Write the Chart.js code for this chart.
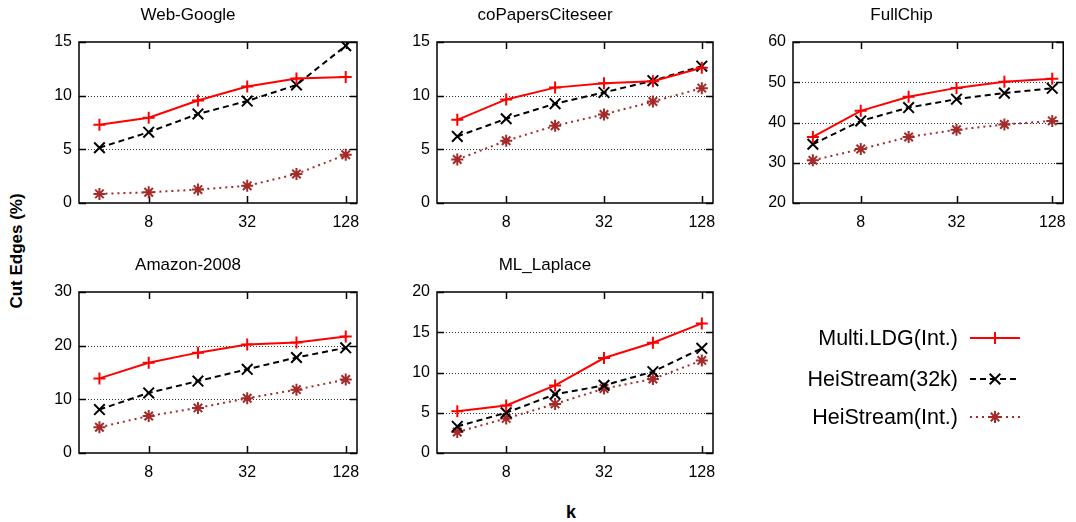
<!DOCTYPE html>
<html>
<head>
<meta charset="utf-8">
<script src="https://cdn.jsdelivr.net/npm/chart.js@4/dist/chart.umd.min.js"></script>
<style>
    html, body { margin: 0; padding: 0; background: #fff; }
    body { width: 1076px; height: 522px; position: relative; overflow: hidden;
           font-family: "Liberation Sans", Arial, sans-serif; color: #000; }
    canvas { position: absolute; }
    .axis-title { position: absolute; font-weight: bold; white-space: nowrap; }
    #ylabel { left: 17px; top: 251px; font-size: 17px; transform: translate(-50%, -50%) rotate(-90deg); }
    #xlabel { left: 571px; top: 512px; font-size: 18px; transform: translate(-50%, -50%); }
    .legend-row { position: absolute; left: 700px; width: 258px; text-align: right; font-size: 21.5px;
                  line-height: 24px; white-space: nowrap; }
</style>
</head>
<body>
<div id="ylabel" class="axis-title">Cut Edges (%)</div>
<div id="xlabel" class="axis-title">k</div>

<script>
// Data
const kValues = [4, 8, 16, 32, 64, 128];
const kTickValues = [8, 32, 128];
const seriesNames = ['Multi.LDG(Int.)', 'HeiStream(32k)', 'HeiStream(Int.)'];

const webGoogleMultiLdg = [7.3, 7.95, 9.55, 10.85, 11.6, 11.75];
const webGoogleHei32k   = [5.15, 6.6, 8.3, 9.5, 11.0, 14.65];
const webGoogleHeiInt   = [0.85, 1.0, 1.25, 1.6, 2.7, 4.5];

const coPapersMultiLdg = [7.75, 9.65, 10.75, 11.15, 11.35, 12.6];
const coPapersHei32k   = [6.2, 7.85, 9.25, 10.3, 11.4, 12.75];
const coPapersHeiInt   = [4.05, 5.8, 7.2, 8.25, 9.45, 10.7];

const fullChipMultiLdg = [36.4, 42.9, 46.4, 48.6, 50.1, 50.9];
const fullChipHei32k   = [34.6, 40.4, 43.7, 45.8, 47.3, 48.5];
const fullChipHeiInt   = [30.6, 33.4, 36.4, 38.2, 39.5, 40.4];

const amazonMultiLdg = [13.9, 16.8, 18.7, 20.2, 20.6, 21.7];
const amazonHei32k   = [8.1, 11.2, 13.4, 15.6, 17.8, 19.6];
const amazonHeiInt   = [4.8, 6.9, 8.4, 10.2, 11.8, 13.7];

const laplaceMultiLdg = [5.2, 5.9, 8.4, 11.8, 13.7, 16.1];
const laplaceHei32k   = [3.3, 5.0, 7.3, 8.4, 10.1, 13.0];
const laplaceHeiInt   = [2.6, 4.3, 6.1, 8.0, 9.2, 11.5];

// y axis ranges (min, max, step) per panel
const webGoogleYRange = [0, 15, 5];
const coPapersYRange  = [0, 15, 5];
const fullChipYRange  = [20, 60, 10];
const amazonYRange    = [0, 30, 10];
const laplaceYRange   = [0, 20, 5];

// Series styles
const seriesStyles = [
    { color: '#ff0000', dash: [], point: 'cross', radius: 6 },
    { color: '#000000', dash: [6, 4], point: 'crossRot', radius: 7.5 },
    { color: '#a52a2a', dash: [2, 4], point: 'star', radius: 6 }
];

const FONT = '"Liberation Sans", Arial, sans-serif';
const Y_AXIS_W = 60, TITLE_H = 42, X_AXIS_H = 30;

// Panel layout: plot area box in page pixels
const panels = [
    { title: 'Web-Google', series: [webGoogleMultiLdg, webGoogleHei32k, webGoogleHeiInt], yRange: webGoogleYRange,
      left: 79, right: 357, top: 42, bottom: 203 },
    { title: 'coPapersCiteseer', series: [coPapersMultiLdg, coPapersHei32k, coPapersHeiInt], yRange: coPapersYRange,
      left: 437, right: 713, top: 42, bottom: 203 },
    { title: 'FullChip', series: [fullChipMultiLdg, fullChipHei32k, fullChipHeiInt], yRange: fullChipYRange,
      left: 793, right: 1070, top: 42, bottom: 203 },
    { title: 'Amazon-2008', series: [amazonMultiLdg, amazonHei32k, amazonHeiInt], yRange: amazonYRange,
      left: 79, right: 357, top: 292, bottom: 453 },
    { title: 'ML_Laplace', series: [laplaceMultiLdg, laplaceHei32k, laplaceHeiInt], yRange: laplaceYRange,
      left: 437, right: 713, top: 292, bottom: 453 }
];

// gnuplot-like frame: box, inward ticks and dotted grid
const framePlugin = {
    id: 'frame',
    beforeDatasetsDraw(chart) {
        const { ctx, chartArea: a, scales: { x, y } } = chart;
        ctx.save();
        // dotted grid at interior y ticks
        ctx.strokeStyle = '#333';
        ctx.lineWidth = 1;
        ctx.setLineDash([1, 2]);
        y.ticks.slice(1, -1).forEach(t => {
            const py = Math.round(y.getPixelForValue(t.value)) + 0.5;
            ctx.beginPath();
            ctx.moveTo(a.left, py);
            ctx.lineTo(a.right, py);
            ctx.stroke();
        });
        ctx.setLineDash([]);
        ctx.strokeStyle = '#000';
        ctx.lineWidth = 1.5;
        const tl = 7;
        y.ticks.forEach(t => {
            const py = Math.round(y.getPixelForValue(t.value)) + 0.5;
            ctx.beginPath();
            ctx.moveTo(a.left, py); ctx.lineTo(a.left + tl, py);
            ctx.moveTo(a.right, py); ctx.lineTo(a.right - tl, py);
            ctx.stroke();
        });
        x.ticks.forEach(t => {
            const px = Math.round(x.getPixelForValue(t.value)) + 0.5;
            ctx.beginPath();
            ctx.moveTo(px, a.bottom); ctx.lineTo(px, a.bottom - tl);
            ctx.moveTo(px, a.top); ctx.lineTo(px, a.top + tl);
            ctx.stroke();
        });
        ctx.strokeRect(a.left, a.top, a.right - a.left, a.bottom - a.top);
        ctx.restore();
    }
};

function makePanel(p) {
    const padR = Math.min(20, 1076 - p.right);
    const canvas = document.createElement('canvas');
    const w = (p.right - p.left) + Y_AXIS_W + padR;
    const h = (p.bottom - p.top) + TITLE_H + X_AXIS_H;
    canvas.width = w;
    canvas.height = h;
    canvas.style.left = (p.left - Y_AXIS_W) + 'px';
    canvas.style.top = (p.top - TITLE_H) + 'px';
    document.body.appendChild(canvas);

    const datasets = p.series.map((vals, i) => {
        const s = seriesStyles[i];
        return {
            label: seriesNames[i],
            data: kValues.map((k, j) => ({ x: k, y: vals[j] })),
            borderColor: s.color,
            backgroundColor: s.color,
            borderWidth: 2,
            borderDash: s.dash,
            pointStyle: s.point,
            pointRadius: s.radius,
            pointBorderWidth: 2,
            pointBorderColor: s.color,
            tension: 0,
            fill: false
        };
    });

    new Chart(canvas.getContext('2d'), {
        type: 'line',
        data: { datasets },
        options: {
            responsive: false,
            animation: false,
            devicePixelRatio: 1,
            layout: { padding: { left: 0, right: padR, top: 0, bottom: 0 } },
            plugins: {
                legend: { display: false },
                tooltip: { enabled: false },
                title: {
                    display: true,
                    text: p.title,
                    color: '#000',
                    font: { family: FONT, size: 17, weight: 'normal' },
                    padding: { top: 5, bottom: TITLE_H - 5 - 17 * 1.2 }
                }
            },
            scales: {
                x: {
                    type: 'logarithmic',
                    min: 3,
                    max: 150,
                    afterBuildTicks: scale => { scale.ticks = kTickValues.map(v => ({ value: v })); },
                    afterFit: scale => { scale.height = X_AXIS_H; },
                    grid: { display: false, drawTicks: false },
                    border: { display: false },
                    ticks: {
                        autoSkip: false,
                        maxRotation: 0,
                        padding: 10,
                        color: '#000',
                        font: { family: FONT, size: 16 },
                        callback: v => String(v)
                    }
                },
                y: {
                    min: p.yRange[0],
                    max: p.yRange[1],
                    afterFit: scale => { scale.width = Y_AXIS_W; },
                    grid: { display: false, drawTicks: false },
                    border: { display: false },
                    ticks: {
                        stepSize: p.yRange[2],
                        padding: 7,
                        color: '#000',
                        font: { family: FONT, size: 16 }
                    }
                }
            }
        },
        plugins: [framePlugin]
    });
}

panels.forEach(makePanel);

// Legend (gnuplot style: text on the left, sample on the right)
const legendRowsY = [338, 378.5, 417];
seriesNames.forEach((name, i) => {
    const row = document.createElement('div');
    row.className = 'legend-row';
    row.textContent = name;
    row.style.top = (legendRowsY[i] - 12) + 'px';
    document.body.appendChild(row);

    const s = seriesStyles[i];
    const c = document.createElement('canvas');
    c.width = 60; c.height = 20;
    c.style.left = '965px';
    c.style.top = (legendRowsY[i] - 10) + 'px';
    document.body.appendChild(c);
    const ctx = c.getContext('2d');
    ctx.strokeStyle = s.color;
    ctx.lineWidth = 2;
    ctx.setLineDash(s.dash);
    ctx.beginPath();
    ctx.moveTo(5, 10); ctx.lineTo(55, 10);
    ctx.stroke();
    ctx.setLineDash([]);
    const r = s.radius, d = Math.cos(Math.PI / 4) * r;
    ctx.beginPath();
    if (s.point === 'cross' || s.point === 'star') {
        ctx.moveTo(30, 10 - r); ctx.lineTo(30, 10 + r);
        ctx.moveTo(30 - r, 10); ctx.lineTo(30 + r, 10);
    }
    if (s.point === 'crossRot' || s.point === 'star') {
        ctx.moveTo(30 - d, 10 - d); ctx.lineTo(30 + d, 10 + d);
        ctx.moveTo(30 - d, 10 + d); ctx.lineTo(30 + d, 10 - d);
    }
    ctx.stroke();
});
</script>
</body>
</html>
